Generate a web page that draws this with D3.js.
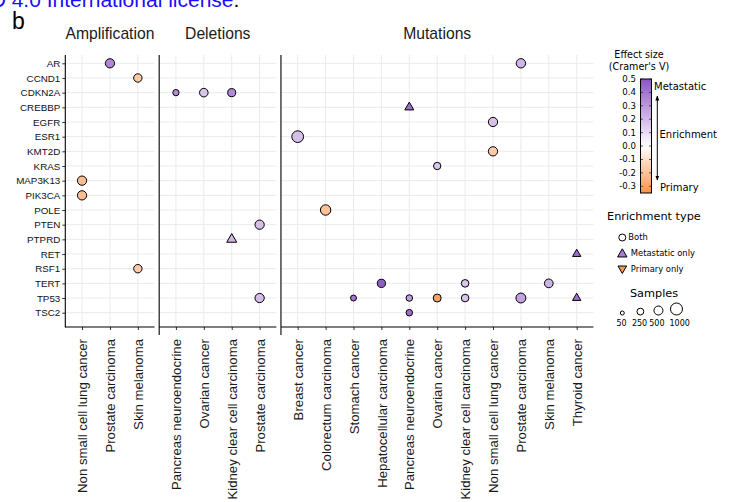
<!DOCTYPE html>
<html>
<head>
<meta charset="utf-8">
<script src="https://cdn.jsdelivr.net/npm/d3@7"></script>
<style>
  html, body { margin: 0; padding: 0; background: #fff; }
  svg { display: block; }
</style>
</head>
<body>
<svg id="chart" width="738" height="502"></svg>
<script>
// Genes shown on the y axis, top to bottom
const genes = ["AR", "CCND1", "CDKN2A", "CREBBP", "EGFR", "ESR1", "KMT2D", "KRAS", "MAP3K13",
  "PIK3CA", "POLE", "PTEN", "PTPRD", "RET", "RSF1", "TERT", "TP53", "TSC2"];

// Facet titles and the cancer types inside each facet
const panelTitles = ["Amplification", "Deletions", "Mutations"];
const ampCancers = ["Non small cell lung cancer", "Prostate carcinoma", "Skin melanoma"];
const delCancers = ["Pancreas neuroendocrine", "Ovarian cancer", "Kidney clear cell carcinoma", "Prostate carcinoma"];
const mutCancers = ["Breast cancer", "Colorectum carcinoma", "Stomach cancer", "Hepatocellular carcinoma",
  "Pancreas neuroendocrine", "Ovarian cancer", "Kidney clear cell carcinoma", "Non small cell lung cancer",
  "Prostate carcinoma", "Skin melanoma", "Thyroid cancer"];

// Enriched alterations: [gene, cancer type, Cramer's V, samples, enrichment type]
const ampHits = [
  ["AR", "Prostate carcinoma", 0.35, 540, "Both"],
  ["CCND1", "Skin melanoma", -0.17, 420, "Both"],
  ["MAP3K13", "Non small cell lung cancer", -0.21, 540, "Both"],
  ["PIK3CA", "Non small cell lung cancer", -0.21, 540, "Both"],
  ["RSF1", "Skin melanoma", -0.17, 420, "Both"]
];
const delHits = [
  ["CDKN2A", "Pancreas neuroendocrine", 0.33, 200, "Both"],
  ["CDKN2A", "Ovarian cancer", 0.17, 450, "Both"],
  ["CDKN2A", "Kidney clear cell carcinoma", 0.34, 380, "Both"],
  ["PTEN", "Prostate carcinoma", 0.19, 540, "Both"],
  ["PTPRD", "Kidney clear cell carcinoma", 0.21, 310, "Metastatic only"],
  ["TP53", "Prostate carcinoma", 0.19, 540, "Both"]
];
const mutHits = [
  ["AR", "Prostate carcinoma", 0.21, 560, "Both"],
  ["CREBBP", "Pancreas neuroendocrine", 0.42, 235, "Metastatic only"],
  ["EGFR", "Non small cell lung cancer", 0.18, 540, "Both"],
  ["ESR1", "Breast cancer", 0.18, 950, "Both"],
  ["KMT2D", "Non small cell lung cancer", -0.17, 540, "Both"],
  ["KRAS", "Ovarian cancer", 0.16, 300, "Both"],
  ["POLE", "Colorectum carcinoma", -0.2, 720, "Both"],
  ["RET", "Thyroid cancer", 0.42, 190, "Metastatic only"],
  ["TERT", "Hepatocellular carcinoma", 0.48, 400, "Both"],
  ["TERT", "Kidney clear cell carcinoma", 0.17, 330, "Both"],
  ["TERT", "Skin melanoma", 0.22, 470, "Both"],
  ["TP53", "Stomach cancer", 0.4, 170, "Both"],
  ["TP53", "Pancreas neuroendocrine", 0.28, 220, "Both"],
  ["TP53", "Ovarian cancer", -0.3, 370, "Both"],
  ["TP53", "Kidney clear cell carcinoma", 0.17, 330, "Both"],
  ["TP53", "Prostate carcinoma", 0.27, 640, "Both"],
  ["TP53", "Thyroid cancer", 0.42, 190, "Metastatic only"],
  ["TSC2", "Pancreas neuroendocrine", 0.42, 220, "Both"]
];

// Legend content
const effectTicks = [0.5, 0.4, 0.3, 0.2, 0.1, 0.0, -0.1, -0.2, -0.3];
const enrichTypes = ["Both", "Metastatic only", "Primary only"];
const sampleBreaks = [50, 250, 500, 1000];

const svg = d3.select("#chart");
const axisFont = "'Liberation Sans', Arial, Helvetica, sans-serif";
const legendFont = "'DejaVu Sans', Verdana, sans-serif";

// Shared scales
const color = d3.scaleLinear()
  .domain([-0.35, 0, 0.5])
  .range(["#f5924c", "#ffffff", "#8a56c3"])
  .interpolate(d3.interpolateLab)
  .clamp(true);
const size = d3.scalePow().exponent(0.5).domain([50, 1000]).range([2.0, 6.0]);
const panelTop = 55, panelBottom = 327;
const y = d3.scalePoint().domain(genes).range([63.3, 312.7]);

// Triangle path with the same area as a circle of radius r
function triangle(r, down) {
  const R = 1.5551 * r, s = down ? -1 : 1;
  return `M0,${-s * R}L${0.866 * R},${s * 0.5 * R}L${-0.866 * R},${s * 0.5 * R}Z`;
}
function disc(r) {
  return d3.arc()({ innerRadius: 0, outerRadius: r, startAngle: 0, endAngle: 2 * Math.PI });
}

// Header text above the figure
svg.append("text")
  .attr("x", 233.5).attr("y", 7)
  .attr("text-anchor", "end")
  .style("font-family", axisFont).style("font-size", "21px")
  .attr("fill", "#1a0dff")
  .text("aCC-BY-NC-ND 4.0 International license");
svg.append("text")
  .attr("x", 233.5).attr("y", 7)
  .style("font-family", axisFont).style("font-size", "21px")
  .attr("fill", "#000")
  .text(".");
svg.append("text")
  .attr("x", 12).attr("y", 29)
  .style("font-family", axisFont).style("font-size", "23px")
  .attr("fill", "#000")
  .text("b");

// Facets: widths follow the number of cancer types
const step = 27.9, gap = 4.6;
const facets = [
  { title: panelTitles[0], cancers: ampCancers, hits: ampHits },
  { title: panelTitles[1], cancers: delCancers, hits: delHits },
  { title: panelTitles[2], cancers: mutCancers, hits: mutHits }
];
let left = 65.3;
facets.forEach((f, i) => {
  const width = (f.cancers.length - 1 + 1.2) * step;
  const x = d3.scalePoint().domain(f.cancers).range([left, left + width]).padding(0.6);
  const g = svg.append("g");

  // grid
  g.append("g").selectAll("line").data(genes).join("line")
    .attr("x1", left).attr("x2", left + width)
    .attr("y1", d => y(d)).attr("y2", d => y(d))
    .attr("stroke", "#ebebeb").attr("stroke-width", 1);
  g.append("g").selectAll("line").data(f.cancers).join("line")
    .attr("x1", d => x(d)).attr("x2", d => x(d))
    .attr("y1", panelTop).attr("y2", panelBottom)
    .attr("stroke", "#ebebeb").attr("stroke-width", 1);

  // x axis
  const xAxis = g.append("g")
    .attr("transform", `translate(0,${panelBottom})`)
    .call(d3.axisBottom(x).tickSize(3).tickSizeOuter(0));
  xAxis.select(".domain").remove();
  xAxis.selectAll(".tick line").attr("stroke", "#333");
  xAxis.selectAll(".tick text")
    .attr("transform", "rotate(-90)")
    .attr("x", -12).attr("y", 0).attr("dy", "0.35em")
    .attr("text-anchor", "end")
    .attr("fill", "#1a1a1a")
    .style("font-family", axisFont).style("font-size", "13.2px");

  // y axis only on the first facet
  if (i === 0) {
    const yAxis = g.append("g")
      .attr("transform", `translate(${left},0)`)
      .call(d3.axisLeft(y).tickSize(3).tickPadding(2).tickSizeOuter(0));
    yAxis.select(".domain").remove();
    yAxis.selectAll(".tick line").attr("stroke", "#333");
    yAxis.selectAll(".tick text")
      .attr("fill", "#111")
      .style("font-family", axisFont).style("font-size", "9.8px");
  }

  // panel axis lines
  g.append("line")
    .attr("x1", left).attr("x2", left)
    .attr("y1", panelTop).attr("y2", i === 0 ? panelBottom + 0.5 : panelBottom + 8)
    .attr("stroke", "#000").attr("stroke-width", 1.1);
  g.append("line")
    .attr("x1", left).attr("x2", left + width)
    .attr("y1", panelBottom).attr("y2", panelBottom)
    .attr("stroke", "#000").attr("stroke-width", 1.1);

  // facet title
  g.append("text")
    .attr("x", left + width / 2).attr("y", 39)
    .attr("text-anchor", "middle")
    .attr("fill", "#1a1a1a")
    .style("font-family", axisFont).style("font-size", "15.7px")
    .text(f.title);

  // points
  g.append("g").selectAll("path").data(f.hits).join("path")
    .attr("transform", d => `translate(${x(d[1])},${y(d[0])})`)
    .attr("d", d => d[4] === "Metastatic only" ? triangle(size(d[3]), false) : disc(size(d[3])))
    .attr("fill", d => color(d[2]))
    .attr("stroke", "#000").attr("stroke-width", 1);

  left += width + gap;
});

// Legend: effect size colour bar
const defs = svg.append("defs");
const lg = svg.append("g");
lg.append("text").attr("x", 639).attr("y", 58)
  .attr("text-anchor", "middle").style("font-family", legendFont).style("font-size", "9.6px")
  .text("Effect size");
lg.append("text").attr("x", 639).attr("y", 69.5)
  .attr("text-anchor", "middle").style("font-family", legendFont).style("font-size", "9.6px")
  .text("(Cramer's V)");

const barY = d3.scaleLinear().domain([-0.35, 0.5]).range([193, 79]);
const grad = defs.append("linearGradient")
  .attr("id", "effectGrad").attr("x1", 0).attr("x2", 0).attr("y1", 1).attr("y2", 0);
d3.range(0, 1.0001, 0.05).forEach(t => {
  const v = -0.35 + t * 0.85;
  grad.append("stop").attr("offset", t).attr("stop-color", color(v));
});
lg.append("rect")
  .attr("x", 640.5).attr("y", 79).attr("width", 11).attr("height", 114)
  .attr("fill", "url(#effectGrad)").attr("stroke", "#000").attr("stroke-width", 1);
lg.append("g").selectAll("line").data(effectTicks).join("line")
  .attr("x1", 641).attr("x2", 643).attr("y1", d => barY(d)).attr("y2", d => barY(d))
  .attr("stroke", "#333").attr("stroke-width", 0.8);
lg.append("g").selectAll("line").data(effectTicks).join("line")
  .attr("x1", 649).attr("x2", 651).attr("y1", d => barY(d)).attr("y2", d => barY(d))
  .attr("stroke", "#333").attr("stroke-width", 0.8);
lg.append("g").selectAll("text").data(effectTicks).join("text")
  .attr("x", 636).attr("y", d => barY(d)).attr("dy", "0.35em")
  .attr("text-anchor", "end")
  .style("font-family", legendFont).style("font-size", "8.6px")
  .text(d => d.toFixed(1));

// Enrichment direction arrow
defs.append("marker").attr("id", "arrowHead")
  .attr("viewBox", "0 0 10 10").attr("refX", 9).attr("refY", 5)
  .attr("markerWidth", 5).attr("markerHeight", 5).attr("orient", "auto-start-reverse")
  .append("path").attr("d", "M0,1L10,5L0,9Z").attr("fill", "#000");
lg.append("line")
  .attr("x1", 657.3).attr("x2", 657.3).attr("y1", 180).attr("y2", 96)
  .attr("stroke", "#000").attr("stroke-width", 1)
  .attr("marker-start", "url(#arrowHead)").attr("marker-end", "url(#arrowHead)");
lg.append("text").attr("x", 654).attr("y", 89.5)
  .style("font-family", legendFont).style("font-size", "10px").text("Metastatic");
lg.append("text").attr("x", 659.5).attr("y", 137.5)
  .style("font-family", legendFont).style("font-size", "10px").text("Enrichment");
lg.append("text").attr("x", 660).attr("y", 191)
  .style("font-family", legendFont).style("font-size", "10px").text("Primary");

// Legend: enrichment type shapes
lg.append("text").attr("x", 607).attr("y", 220)
  .style("font-family", legendFont).style("font-size", "11.3px").text("Enrichment type");
const typeY = d3.scalePoint().domain(enrichTypes).range([237.5, 269]);
const typeKey = lg.append("g").selectAll("g").data(enrichTypes).join("g")
  .attr("transform", d => `translate(622.3,${typeY(d)})`);
typeKey.append("path")
  .attr("d", d => d === "Both" ? disc(3.5)
    : triangle(d === "Metastatic only" ? 3.5 : 3.2, d === "Primary only"))
  .attr("transform", d => d === "Metastatic only" ? "translate(0,1)" : d === "Primary only" ? "translate(0,-0.5)" : null)
  .attr("fill", d => d === "Both" ? "#fff" : d === "Metastatic only" ? color(0.38) : color(-0.33))
  .attr("stroke", "#000").attr("stroke-width", 1);
typeKey.append("text")
  .attr("x", d => d === "Both" ? 6 : 8.5).attr("y", 0).attr("dy", "0.35em")
  .style("font-family", legendFont).style("font-size", "8.4px")
  .text(d => d);

// Legend: samples (point size); labels sit under their keys, the widest one nudged right
lg.append("text").attr("x", 654).attr("y", 297)
  .attr("text-anchor", "middle")
  .style("font-family", legendFont).style("font-size", "11.3px").text("Samples");
const sampleX = d3.scalePoint().domain(sampleBreaks).range([622.3, 676.5]);
lg.append("g").selectAll("circle").data(sampleBreaks).join("circle")
  .attr("cx", d => sampleX(d)).attr("cy", d => 315 - size(d))
  .attr("r", d => size(d))
  .attr("fill", "#fff").attr("stroke", "#000").attr("stroke-width", 1);
const labelShift = [-0.8, -0.8, -1.5, 3.2];
lg.append("g").selectAll("text").data(sampleBreaks).join("text")
  .attr("x", (d, k) => sampleX(d) + labelShift[k]).attr("y", 325.5)
  .attr("text-anchor", "middle")
  .style("font-family", legendFont).style("font-size", "8px")
  .text(d => d);
</script>
</body>
</html>
